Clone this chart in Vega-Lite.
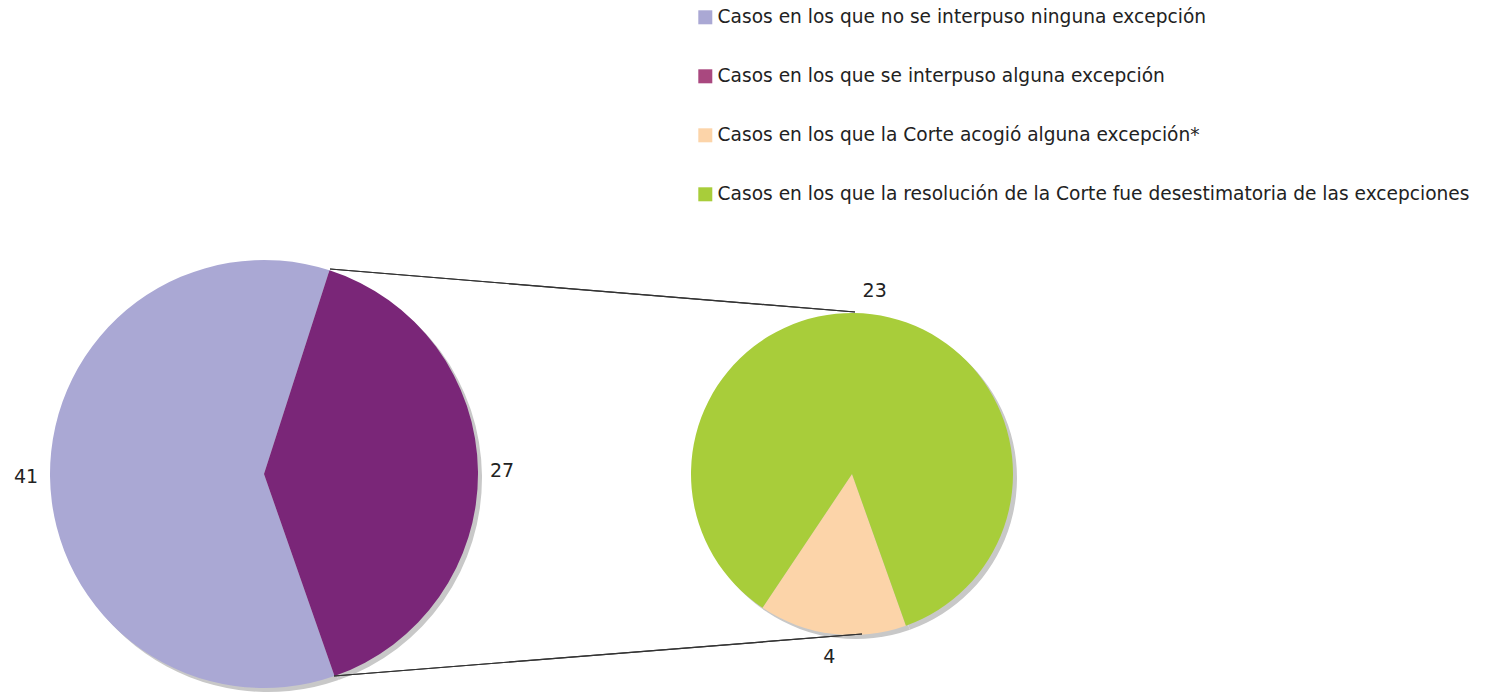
{
  "$schema": "https://vega.github.io/schema/vega-lite/v6.json",
  "width": 1485,
  "height": 694,
  "padding": 0,
  "autosize": {"type": "fit", "contains": "padding"},
  "background": "white",
  "config": {"view": {"stroke": null}, "font": "DejaVu Sans", "text": {"font": "DejaVu Sans"}},
  "data": {
    "values": [
      {"pie": "main", "to": "sub", "cat": "Casos en los que no se interpuso ninguna excepción", "value": 41},
      {"pie": "main", "to": "sub", "cat": "Casos en los que se interpuso alguna excepción", "value": 27},
      {"pie": "sub", "to": "sub", "cat": "Casos en los que la Corte acogió alguna excepción*", "value": 4},
      {"pie": "sub", "to": "sub", "cat": "Casos en los que la resolución de la Corte fue desestimatoria de las excepciones", "value": 23}
    ]
  },
  "encoding": {
    "x": {"field": "pie", "type": "nominal", "scale": {"type": "point", "padding": 0, "domain": ["main", "sub"], "range": [264, 852]}, "axis": null},
    "y": {"field": "pie", "type": "nominal", "scale": {"type": "point", "padding": 0, "domain": ["main", "sub"], "range": [474, 474]}, "axis": null}
  },
  "layer": [
    {
      "mark": {"type": "point", "shape": "square", "filled": true, "opacity": 0},
      "encoding": {
        "fill": {
          "field": "cat",
          "type": "nominal",
          "scale": {
            "domain": [
              "Casos en los que no se interpuso ninguna excepción",
              "Casos en los que se interpuso alguna excepción",
              "Casos en los que la Corte acogió alguna excepción*",
              "Casos en los que la resolución de la Corte fue desestimatoria de las excepciones"
            ],
            "range": ["#aaa8d4", "#a9487f", "#fcd4a9", "#a8cd3a"]
          },
          "legend": {
            "title": null,
            "orient": "none",
            "legendX": 696,
            "legendY": 8,
            "direction": "vertical",
            "symbolType": "square",
            "symbolSize": 196,
            "symbolOpacity": 1,
            "symbolStrokeWidth": 0,
            "labelFontSize": 18.6,
            "labelFont": "DejaVu Sans",
            "labelColor": "#222222",
            "labelOffset": 3,
            "labelLimit": 0,
            "rowPadding": 40
          }
        }
      }
    },
    {
      "transform": [{"filter": "datum.pie === 'main'"}],
      "encoding": {
        "theta": {"field": "value", "type": "quantitative", "stack": true, "scale": {"range": [0.311, 6.594]}},
        "order": {"field": "value", "sort": "ascending"}
      },
      "layer": [
        {"mark": {"type": "arc", "radius": 214, "xOffset": 4, "yOffset": 4, "color": "#c8c8c8"}},
        {
          "mark": {"type": "arc", "radius": 214},
          "encoding": {
            "color": {
              "field": "cat",
              "type": "nominal",
              "scale": {
                "domain": [
                  "Casos en los que no se interpuso ninguna excepción",
                  "Casos en los que se interpuso alguna excepción",
                  "Casos en los que la Corte acogió alguna excepción*",
                  "Casos en los que la resolución de la Corte fue desestimatoria de las excepciones"
                ],
                "range": ["#aaa8d4", "#7a2678", "#fcd4a9", "#a8cd3a"]
              },
              "legend": null
            }
          }
        },
        {
          "mark": {"type": "text", "radius": 238, "fontSize": 19, "color": "#222222", "align": "center", "baseline": "middle"},
          "encoding": {"text": {"field": "value", "type": "quantitative"}}
        }
      ]
    },
    {
      "transform": [{"filter": "datum.pie === 'sub'"}],
      "encoding": {
        "theta": {"field": "value", "type": "quantitative", "stack": true, "scale": {"range": [2.8, 9.083]}},
        "order": {"field": "value", "sort": "ascending"}
      },
      "layer": [
        {"mark": {"type": "arc", "radius": 161, "xOffset": 4, "yOffset": 4, "color": "#c8c8c8"}},
        {
          "mark": {"type": "arc", "radius": 161},
          "encoding": {
            "color": {
              "field": "cat",
              "type": "nominal",
              "legend": null
            }
          }
        },
        {
          "mark": {"type": "text", "radius": 184, "fontSize": 19, "color": "#222222", "align": "center", "baseline": "middle"},
          "encoding": {"text": {"field": "value", "type": "quantitative"}}
        }
      ]
    },
    {
      "transform": [{"filter": "datum.pie === 'main'"}],
      "mark": {"type": "rule", "color": "#333333", "strokeWidth": 1.2, "xOffset": 66, "yOffset": -205, "x2Offset": 3, "y2Offset": -162},
      "encoding": {"x2": {"field": "to"}, "y2": {"field": "to"}}
    },
    {
      "transform": [{"filter": "datum.pie === 'main'"}],
      "mark": {"type": "rule", "color": "#333333", "strokeWidth": 1.2, "xOffset": 70, "yOffset": 202, "x2Offset": 10, "y2Offset": 160},
      "encoding": {"x2": {"field": "to"}, "y2": {"field": "to"}}
    }
  ],
  "resolve": {"scale": {"theta": "independent"}}
}
